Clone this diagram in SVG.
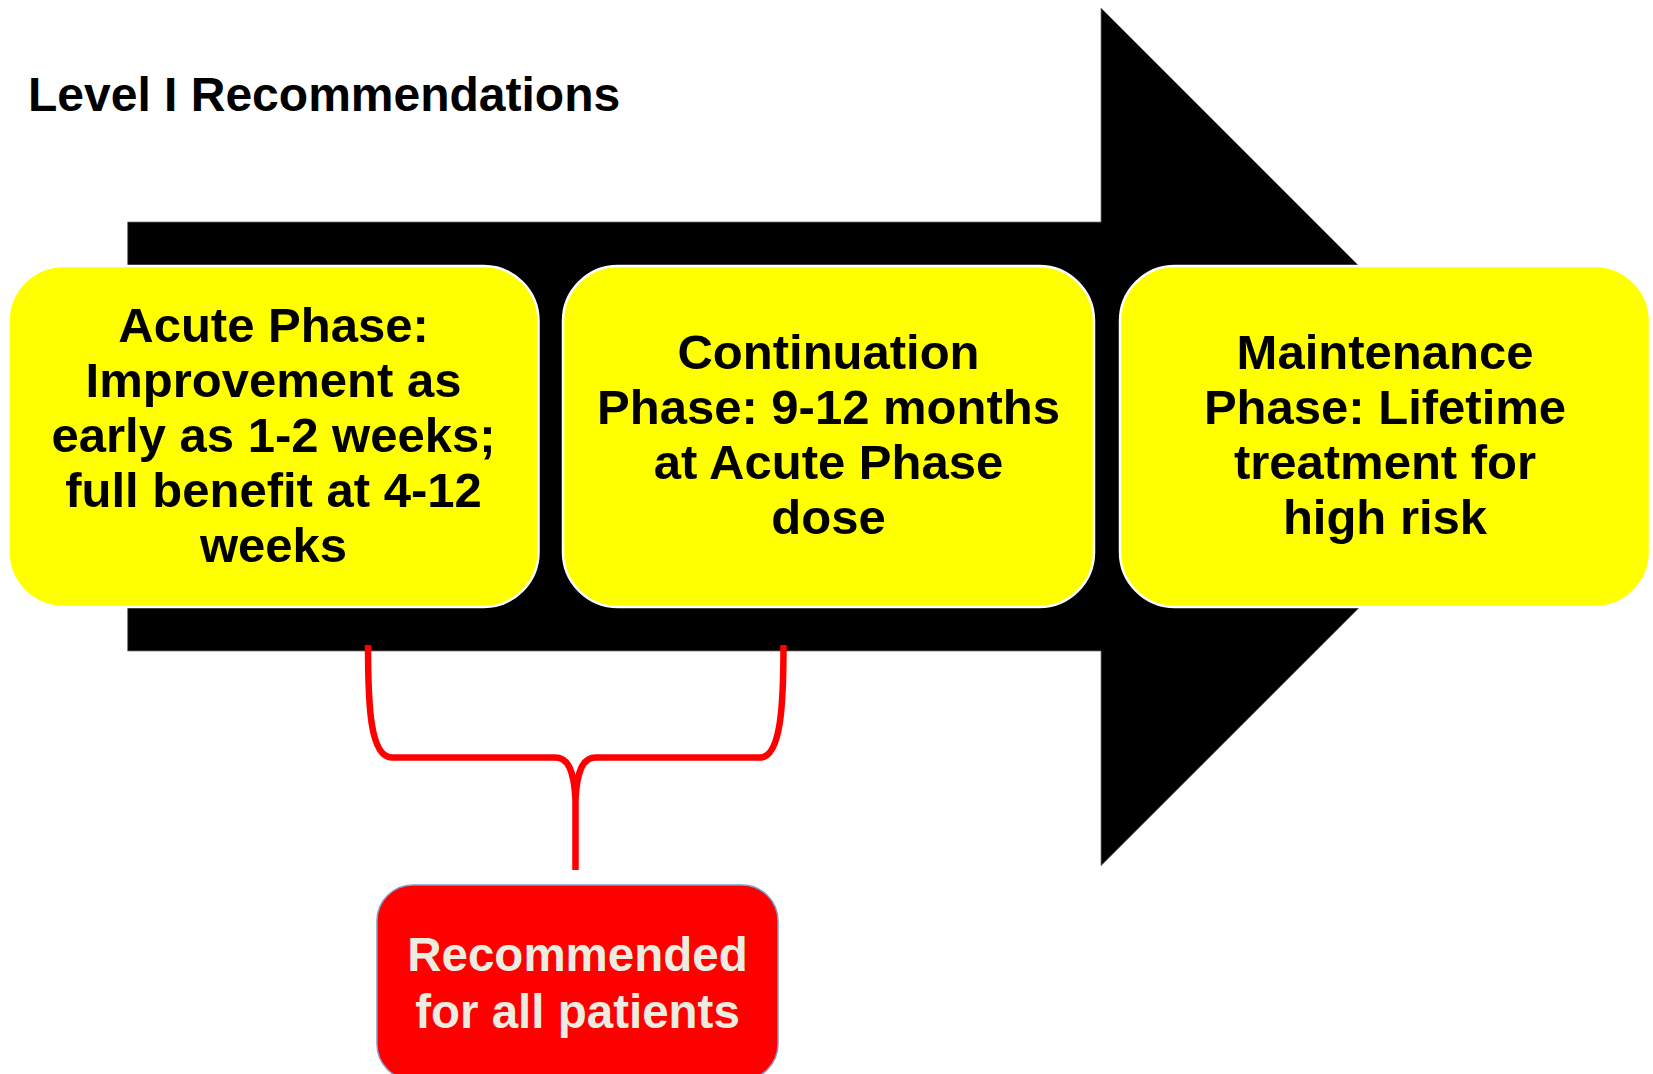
<svg xmlns="http://www.w3.org/2000/svg" width="1653" height="1074" viewBox="0 0 1653 1074">
<style>
.phase{fill:#FFFF00;stroke:#FFFFFF;stroke-width:2.5}
.pt{font-family:"Liberation Sans",Arial,sans-serif;font-weight:bold;font-size:49px;fill:#000;text-anchor:middle}
.title{font-family:"Liberation Sans",Arial,sans-serif;font-weight:bold;font-size:48px;fill:#000}
.rt{font-family:"Liberation Sans",Arial,sans-serif;font-weight:bold;font-size:47.5px;fill:#EEECE1;text-anchor:middle}
.brace{fill:none;stroke:#FF0000;stroke-width:6.5;stroke-linejoin:round}
</style>
<rect width="1653" height="1074" fill="#FFFFFF"/>
<text class="title" x="28" y="111">Level I Recommendations</text>
<g id="arrow">
<polygon points="127.6,222 1101,222 1101,8 1530,437 1101,865.7 1101,651 127.6,651" fill="#000000" stroke="#777" stroke-width="0.8"/>
</g>
<g id="acute">
<rect class="phase" x="8.5" y="266" width="530" height="341" rx="55" ry="55"/>
<text class="pt" x="273.5" y="342">Acute Phase:</text>
<text class="pt" x="273.5" y="397">Improvement as</text>
<text class="pt" x="273.5" y="452">early as 1-2 weeks;</text>
<text class="pt" x="273.5" y="507">full benefit at 4-12</text>
<text class="pt" x="273.5" y="562">weeks</text>
</g>
<g id="continuation">
<rect class="phase" x="563" y="266" width="531" height="341" rx="55" ry="55"/>
<text class="pt" x="828.5" y="369">Continuation</text>
<text class="pt" x="828.5" y="424">Phase: 9-12 months</text>
<text class="pt" x="828.5" y="479">at Acute Phase</text>
<text class="pt" x="828.5" y="534">dose</text>
</g>
<g id="maintenance">
<rect class="phase" x="1120" y="266" width="530" height="341" rx="55" ry="55"/>
<text class="pt" x="1385" y="369">Maintenance</text>
<text class="pt" x="1385" y="424">Phase: Lifetime</text>
<text class="pt" x="1385" y="479">treatment for</text>
<text class="pt" x="1385" y="534">high risk</text>
</g>
<g id="connectors">
<path class="brace" d="M368,645 C368,705 370,757.5 392,757.5 L555,757.5 C568,757.5 574,770 575.5,800 L575.5,870 M575.5,800 C577,770 583,757.5 596,757.5 L760,757.5 C781,757.5 783.5,705 783.5,645"/>
</g>
<g id="recommended">
<rect x="377" y="885" width="401" height="195" rx="36" ry="36" fill="#FF0000" stroke="#7F9CC8" stroke-width="1.5"/>
<text class="rt" x="577.5" y="970.5">Recommended</text>
<text class="rt" x="577.5" y="1028">for all patients</text>
</g>
</svg>
